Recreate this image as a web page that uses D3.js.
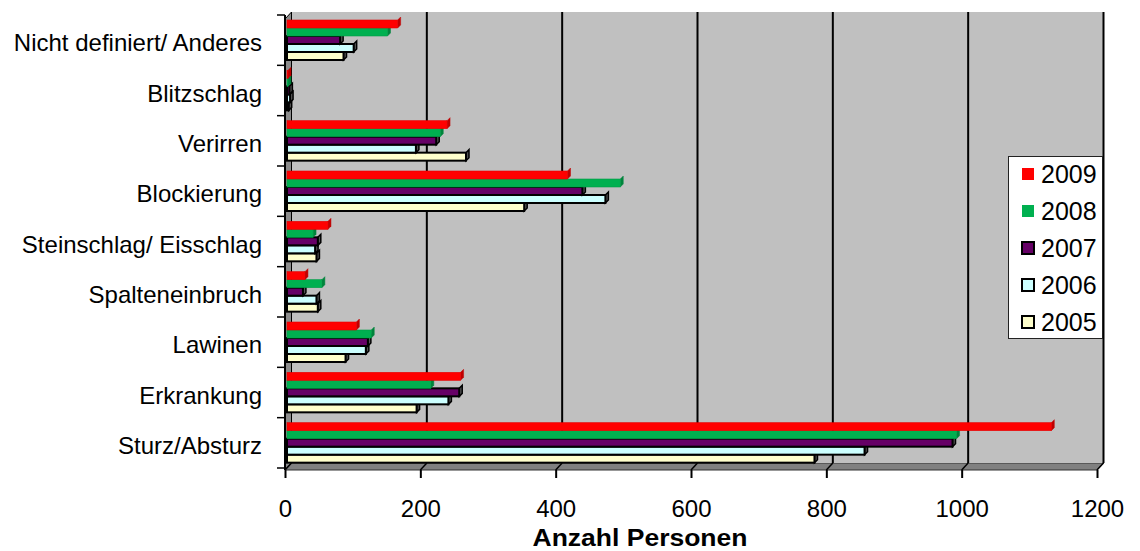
<!DOCTYPE html>
<html><head><meta charset="utf-8">
<script src="https://cdn.jsdelivr.net/npm/d3@7"></script>
<style>body{margin:0;background:#fff}svg{display:block;font-family:"Liberation Sans",Arial,sans-serif}</style>
</head><body><svg id="c" width="1140" height="551"></svg>
<script>
const categories = ["Nicht definiert/ Anderes","Blitzschlag","Verirren","Blockierung","Steinschlag/ Eisschlag","Spalteneinbruch","Lawinen","Erkrankung","Sturz/Absturz"];
const years = ["2009","2008","2007","2006","2005"];
const v2009 = [165,3,238,416,62,28,104,258,1131];
const v2008 = [150,3,228,494,40,53,126,214,991];
const v2007 = [80,5,222,438,47,25,121,256,985];
const v2006 = [100,6,192,472,43,45,118,240,855];
const v2005 = [85,4,266,352,45,47,88,193,781];
const seriesValues = [v2009,v2008,v2007,v2006,v2005];
const colors = ["#ff0000","#00b050","#660066","#ccffff","#ffffcc"];
const outlined = [false,false,true,true,true];
const xTicks = [0,200,400,600,800,1000,1200];

const svg = d3.select("#c");
const DX = 6.5, DY = -7;
const x = d3.scaleLinear().domain([0,1200]).range([285,1097]);
const xb = v => x(v) + DX;            // back wall
const xm = v => x(v) + 1;             // bar depth
const y = d3.scaleBand().domain(categories).range([15,468]);
const ys = d3.scaleBand().domain(years).range([5,45]);
const yBottom = 470, yTop = 19;

// left wall
svg.append("polygon").attr("points",[[285,yTop],[285+DX,yTop+DY],[285+DX,yBottom+DY],[285,yBottom]].join(" "))
  .attr("fill","#8c8c8c").attr("stroke","#000").attr("stroke-width",1);
// floor
svg.append("polygon").attr("points",[[285,yBottom],[285+DX,yBottom+DY],[xb(1200),yBottom+DY],[x(1200),yBottom]].join(" "))
  .attr("fill","#808080").attr("stroke","#333").attr("stroke-width",1);
// back wall
svg.append("rect").attr("x",xb(0)).attr("y",yTop+DY).attr("width",xb(1200)-xb(0)).attr("height",yBottom-yTop)
  .attr("fill","#c0c0c0");
// back wall gridlines
xTicks.slice(1).forEach(v=>{
  svg.append("line").attr("x1",xb(v)).attr("x2",xb(v)).attr("y1",yTop+DY).attr("y2",yBottom+DY)
    .attr("stroke","#000").attr("stroke-width",2);
});
svg.append("line").attr("x1",xb(0)).attr("x2",xb(0)).attr("y1",yTop+DY).attr("y2",yBottom+DY).attr("stroke","#000").attr("stroke-width",1);
// floor diagonals
xTicks.forEach(v=>{
  svg.append("line").attr("x1",xb(v)).attr("y1",yBottom+DY).attr("x2",x(v)).attr("y2",yBottom)
    .attr("stroke","#000").attr("stroke-width",1.5);
});
// front axes
svg.append("line").attr("x1",285).attr("x2",285).attr("y1",yTop-4).attr("y2",yBottom).attr("stroke","#000").attr("stroke-width",2);
const xAxis = d3.axisBottom(x).tickValues(xTicks).tickSize(8).tickPadding(22).tickFormat(d3.format("d"));
const gx = svg.append("g").attr("transform",`translate(0,${yBottom})`).call(xAxis);
gx.select(".domain").remove();
gx.selectAll(".tick line").attr("stroke","#000").attr("stroke-width",2);
gx.selectAll(".tick text").attr("font-size",24).attr("fill","#000").attr("font-family","Liberation Sans, Arial, sans-serif");

// category ticks
const bounds = categories.map(c=>y(c)).concat([468]);
bounds.forEach(b=>{
  svg.append("line").attr("x1",277).attr("x2",285).attr("y1",b).attr("y2",b).attr("stroke","#000").attr("stroke-width",1.5);
});
svg.selectAll("text.cat").data(categories).join("text").attr("class","cat")
  .attr("x",262).attr("y",d=>y(d)+y.bandwidth()/2+11)
  .attr("text-anchor","end").attr("font-size",24).attr("fill","#000").text(d=>d);

// bars (draw bottom series first)
const bars = svg.append("g");
for (let s = years.length-1; s >= 0; s--) {
  const col = colors[s], dark = d3.color(col).darker(0.8).formatHex();
  categories.forEach((c,i)=>{
    const v = seriesValues[s][i];
    const y0 = y(c)+ys(years[s]), h = ys.bandwidth();
    const x0 = 287, x1 = xm(v);
    const g = bars.append("g");
    g.append("polygon").attr("points",[[x1,y0],[x1+3,y0-3],[x1+3,y0+h-3],[x1,y0+h]].join(" "))
      .attr("fill",outlined[s]?"#555":dark).attr("stroke",outlined[s]?"#000":dark).attr("stroke-width",outlined[s]?1.5:0.5);
    g.append("rect").attr("x",x0).attr("y",y0).attr("width",Math.max(0,x1-x0)).attr("height",h)
      .attr("fill",col).attr("stroke",outlined[s]?"#000":d3.color(col).darker(0.3)).attr("stroke-width",outlined[s]?2:0.6);
  });
}

// axis title
svg.append("text").attr("x",640).attr("y",546).attr("text-anchor","middle").attr("font-weight","bold")
  .attr("font-size",23).attr("textLength",215).attr("lengthAdjust","spacingAndGlyphs").attr("fill","#000").text("Anzahl Personen");

// legend
const lg = svg.append("g");
lg.append("rect").attr("x",1008.5).attr("y",156.5).attr("width",94).attr("height",182).attr("fill","#fff").attr("stroke","#222").attr("stroke-width",1);
years.forEach((yr,i)=>{
  const cy = 174 + i*37;
  lg.append("rect").attr("x",1022).attr("y",cy-6).attr("width",12).attr("height",12)
    .attr("fill",colors[i]).attr("stroke",outlined[i]?"#000":"none").attr("stroke-width",2);
  lg.append("text").attr("x",1041).attr("y",cy+9).attr("font-size",25).attr("fill","#000").text(yr);
});
</script></body></html>
